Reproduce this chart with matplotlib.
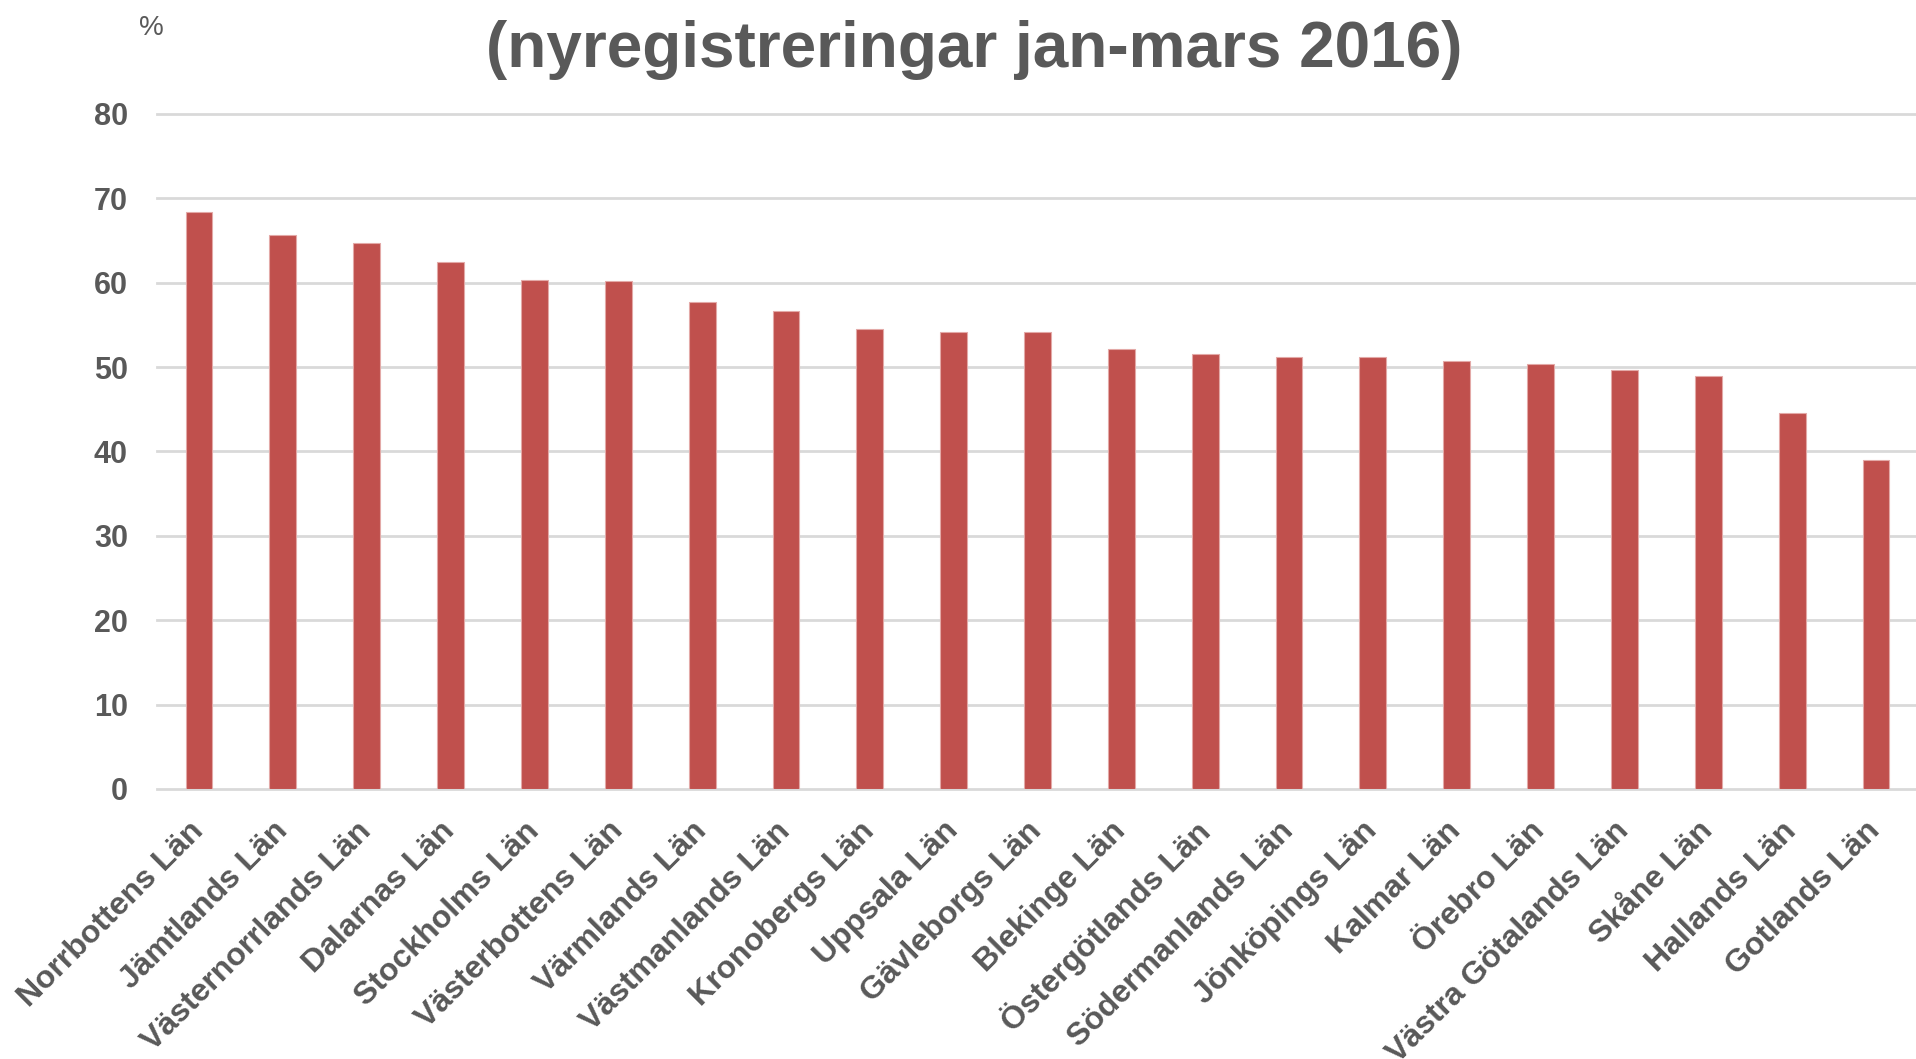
import matplotlib
matplotlib.use("Agg")
import matplotlib.pyplot as plt

# -------------------------------------------------------------------------------------
# Data
lan_names = ['Norrbottens Län', 'Jämtlands Län', 'Västernorrlands Län', 'Dalarnas Län',
             'Stockholms Län', 'Västerbottens Län', 'Värmlands Län', 'Västmanlands Län',
             'Kronobergs Län', 'Uppsala Län', 'Gävleborgs Län', 'Blekinge Län',
             'Östergötlands Län', 'Södermanlands Län', 'Jönköpings Län', 'Kalmar Län',
             'Örebro Län', 'Västra Götalands Län', 'Skåne Län', 'Hallands Län', 'Gotlands Län']
lan_values = [68.4, 65.7, 64.7, 62.4, 60.3, 60.2, 57.7, 56.7, 54.5, 54.1, 54.1, 52.2,
              51.6, 51.2, 51.2, 50.7, 50.4, 49.6, 49.0, 44.5, 39.0]
y_ticks = [0, 10, 20, 30, 40, 50, 60, 70, 80]
title_text = '(nyregistreringar jan-mars 2016)'
unit_text = '%'
# -------------------------------------------------------------------------------------

text_color = '#595959'
bar_color = '#c0504d'
grid_color = '#d9d9d9'
font_family = ['Liberation Sans', 'DejaVu Sans']

fig = plt.figure(figsize=(19.16, 10.59), dpi=100)
ax = fig.add_axes([0.082, 0.255, 0.919, 0.6374])

x_pos = list(range(len(lan_names)))
ax.bar(x_pos, lan_values, width=0.32, color=bar_color, edgecolor='#e3a9a7', linewidth=0.8, zorder=3)

ax.set_xlim(-0.5, len(lan_names) - 0.5)
ax.set_ylim(0, 80)
ax.set_yticks(y_ticks)
ax.set_yticklabels([str(v) for v in y_ticks], fontsize=22, fontweight='bold',
                   color=text_color, family=font_family)

for v in y_ticks:
    ax.axhline(v, color=grid_color, linewidth=2, zorder=1, clip_on=False)

ax.set_xticks(x_pos)
ax.set_xticklabels(lan_names, rotation=45, ha='right', va='center', rotation_mode='anchor',
                   fontsize=23, fontweight='bold', color=text_color, family=font_family)

ax.tick_params(axis='both', length=0)
ax.tick_params(axis='y', pad=21)
ax.tick_params(axis='x', pad=27)
for s in ax.spines.values():
    s.set_visible(False)

fig.text(974 / 1916, 1 - 50 / 1059, title_text, ha='center', va='center', fontsize=46,
         fontweight='bold', color=text_color, family=font_family)
fig.text(151 / 1916, 1 - 28 / 1059, unit_text, ha='center', va='center', fontsize=20,
         color=text_color, family=font_family)

fig.savefig('out.png', dpi=100)
plt.close()
